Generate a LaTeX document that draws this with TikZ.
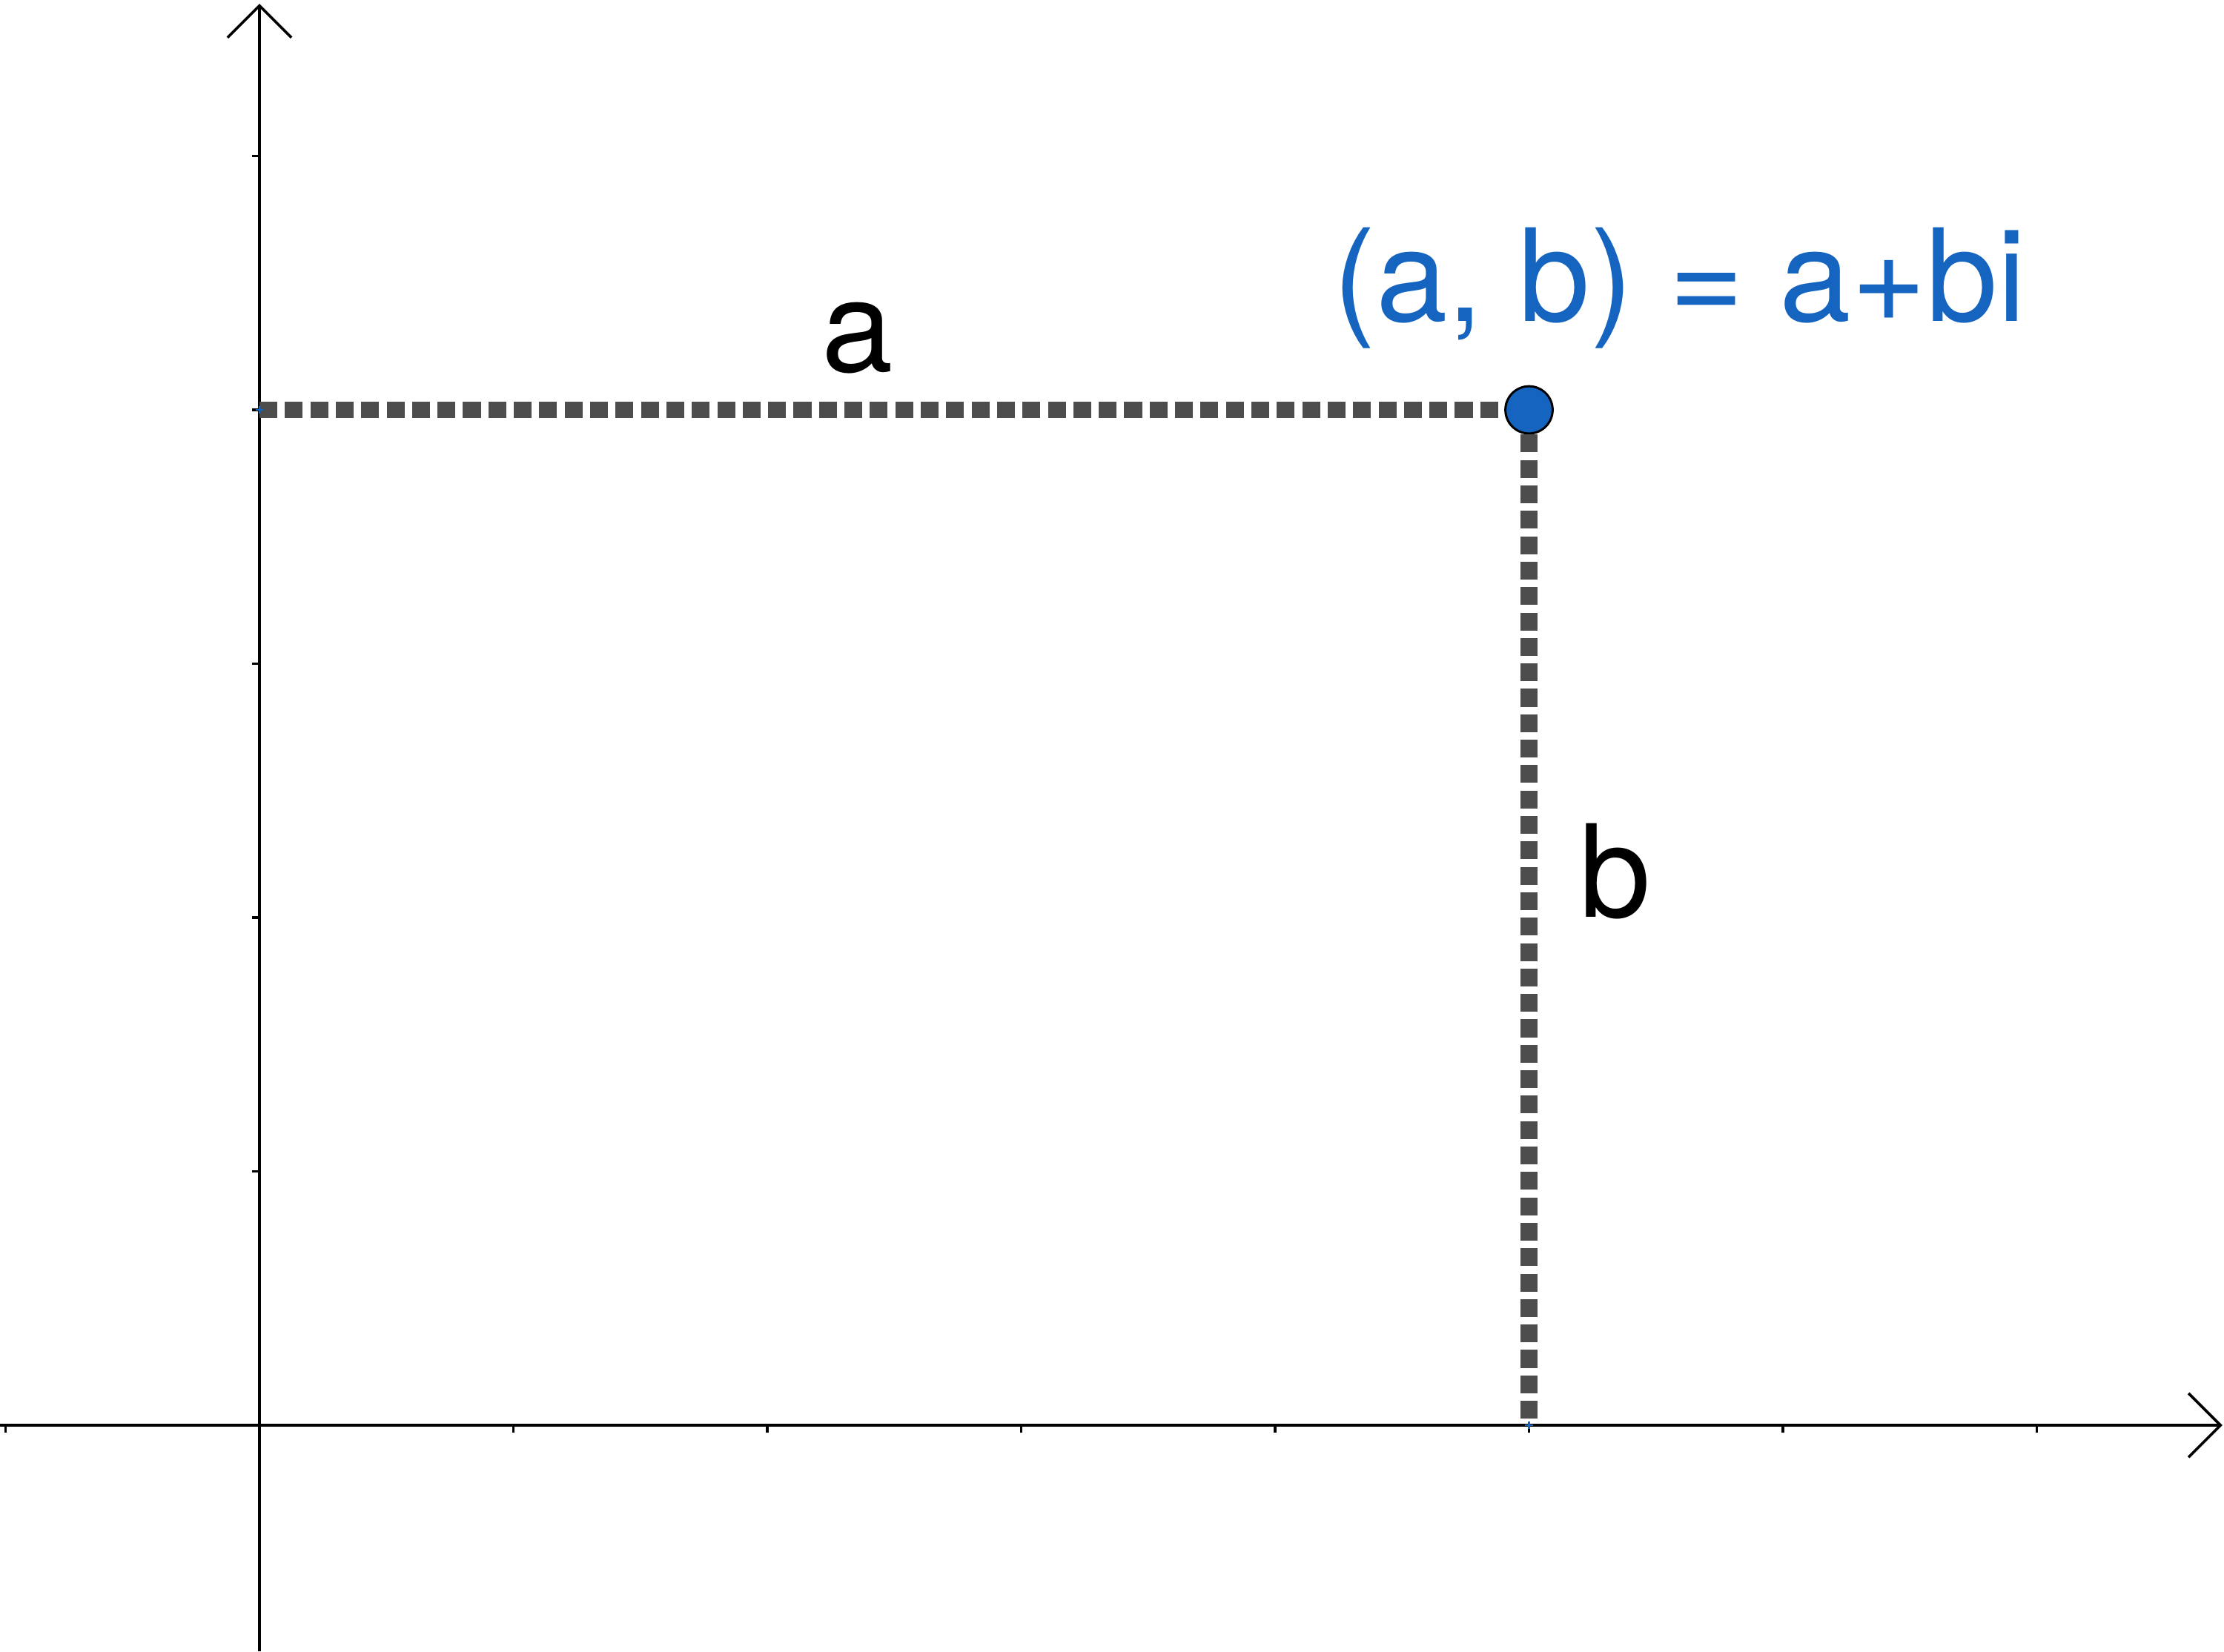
\documentclass[tikz,border=0pt]{standalone}
\usepackage{fontspec}
\setmainfont{TeX Gyre Heros}
\usepackage{tikz}
\usetikzlibrary{arrows.meta}
\definecolor{pointblue}{HTML}{1565C0}
\definecolor{guidegray}{HTML}{4D4D4D}
\tikzset{
  axis line/.style={line width=0.3pt,
    -{Straight Barb[length=1.26mm,width=2.52mm]}},
  tick mark/.style={line width=0.3pt},
  guide line/.style={line width=1.9pt,guidegray,
    dash pattern=on 2pt off 0.85pt},
  point dot/.style={circle,draw=black,line width=0.25pt,fill=pointblue,
    minimum size=1.86mm,inner sep=0pt},
  foot mark/.style={line width=0.2pt,pointblue},
  side label/.style={font=\fontsize{14.4}{17}\selectfont,inner sep=0pt,
    anchor=base},
  point label/.style={side label,text=pointblue,anchor=base west},
}

\begin{document}
\begin{tikzpicture}
  \useasboundingbox (-1.0219,-0.8905) rectangle (7.7372,5.6146);
  % Axes run out of the frame on the left and at the bottom.
  \coordinate (xstart) at (-1.0219,0);
  \coordinate (xend) at (7.731,0);
  \coordinate (ystart) at (0,-0.8905);
  \coordinate (yend) at (0,5.600);
  \draw[axis line] (xstart) -- (xend);
  \draw[axis line] (ystart) -- (yend);
  \foreach \x in {-1,1,2,...,7}
    \draw[tick mark] (\x,0) -- ++(0,-0.03);
  \foreach \y in {1,...,5}
    \draw[tick mark] (0,\y) -- ++(-0.03,0);

  % The point and its two projections.
  \coordinate (Pa) at (0,4);
  \coordinate (Pb) at (5,0);
  \node[point dot] (P) at (5,4) {};
  \draw[guide line] (Pa) -- (P);
  \draw[guide line] (P) -- (Pb);
  \foreach \c in {Pa,Pb}
    \draw[foot mark] ([xshift=-0.15mm]\c) -- ([xshift=0.15mm]\c)
      ([yshift=-0.15mm]\c) -- ([yshift=0.15mm]\c);

  \node[side label] (alabel) at (2.356,4.149) {a};
  \node[side label] (blabel) at (5.34,2.003) {b};
  \node[point label] (plabel) at (4.222,4.350) {(a, b) = a+bi};
\end{tikzpicture}
\end{document}
